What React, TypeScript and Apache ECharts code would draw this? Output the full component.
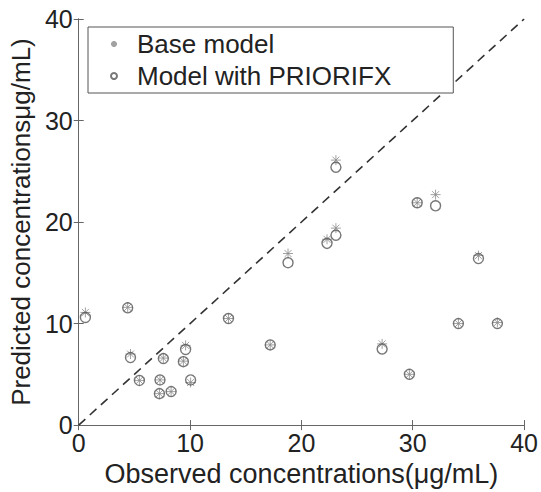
import React, { useEffect, useRef } from "react";
import * as echarts from "echarts";

const observed = [0.6, 4.4, 4.65, 5.45, 7.25, 7.3, 7.6, 8.3, 9.4, 9.6, 10.05, 13.45, 17.2, 18.8, 22.3, 23.1, 23.1, 27.25, 29.7, 30.4, 32.05, 34.1, 35.9, 37.6];
const baseModel = [11.1, 11.6, 7.0, 4.4, 3.1, 4.45, 6.6, 3.3, 6.3, 7.85, 4.2, 10.5, 7.9, 16.9, 18.3, 19.4, 26.1, 8.0, 5.0, 21.9, 22.7, 10.0, 16.7, 10.1];
const priorifxModel = [10.6, 11.55, 6.65, 4.4, 3.1, 4.45, 6.55, 3.3, 6.25, 7.45, 4.45, 10.5, 7.9, 16.0, 17.9, 18.7, 25.4, 7.5, 5.0, 21.9, 21.6, 10.0, 16.4, 10.0];
const identityLine = [[0, 0], [40, 40]];
const seriesNames = ["Base model", "Model with PRIORIFX"];
const xName = "Observed concentrations(μg/mL)";
const yName = "Predicted concentrationsμg/mL)";

const asteriskPath = "path://M5,0L5,10M0,5L10,5M1.5,1.5L8.5,8.5M1.5,8.5L8.5,1.5";
const FONT = "Liberation Sans, Arial, sans-serif";

export default function App() {
  const ref = useRef<HTMLDivElement>(null);
  useEffect(() => {
    if (!ref.current) return;
    const chart = echarts.init(ref.current, null, { renderer: "svg" });
    const axisCommon = {
      type: "value" as const,
      min: 0,
      max: 40,
      interval: 10,
      splitLine: { show: false },
      axisLine: { show: true, lineStyle: { color: "#666", width: 1 } },
      axisTick: { show: true, inside: true, length: 5, lineStyle: { color: "#666" } },
    };
    chart.setOption({
      animation: false,
      backgroundColor: "#fff",
      textStyle: { fontFamily: FONT },
      grid: { left: 78, right: 16, top: 19, bottom: 57, containLabel: false },
      legend: {
        orient: "vertical",
        left: 88,
        top: 27,
        padding: [4, 62, 4, 22],
        itemGap: 6,
        itemWidth: 6,
        itemHeight: 6,
        backgroundColor: "#fff",
        borderColor: "#555",
        borderWidth: 1,
        borderRadius: 0,
        data: seriesNames,
        textStyle: { fontSize: 26, color: "#222", fontFamily: FONT, padding: [0, 0, 0, 15] },
      },
      xAxis: [
        {
          ...axisCommon,
          position: "bottom",
          name: xName,
          nameLocation: "middle",
          nameGap: 33,
          nameTextStyle: { fontSize: 27, color: "#222", fontFamily: FONT },
          axisLabel: { fontSize: 25, color: "#222", margin: 5, fontFamily: FONT },
        },
        {
          ...axisCommon,
          position: "top",
          axisLabel: { show: false },
        },
      ],
      yAxis: [
        {
          ...axisCommon,
          position: "left",
          name: yName,
          nameLocation: "middle",
          nameGap: 44,
          nameTextStyle: { fontSize: 26, color: "#222", fontFamily: FONT },
          axisLabel: { fontSize: 25, color: "#222", margin: 6, fontFamily: FONT },
        },
        {
          ...axisCommon,
          position: "right",
          axisLabel: { show: false },
        },
      ],
      series: [
        {
          type: "line",
          data: identityLine,
          showSymbol: false,
          symbol: "none",
          silent: true,
          lineStyle: { color: "#333", width: 1.6, type: [9, 6] },
          z: 1,
        },
        {
          name: seriesNames[0],
          type: "scatter",
          symbol: asteriskPath,
          symbolSize: 10,
          data: observed.map((x, i) => [x, baseModel[i]]),
          itemStyle: { color: "transparent", borderColor: "#8a8a8a", borderWidth: 1 },
          z: 2,
        },
        {
          name: seriesNames[1],
          type: "scatter",
          symbol: "circle",
          symbolSize: 10,
          data: observed.map((x, i) => [x, priorifxModel[i]]),
          itemStyle: { color: "transparent", borderColor: "#555", borderWidth: 1.4 },
          z: 3,
        },
      ],
    });
    return () => chart.dispose();
  }, []);
  return (
    <div
      ref={ref}
      style={{ position: "fixed", left: 0, top: 0, width: 541, height: 492, background: "#fff" }}
    />
  );
}
